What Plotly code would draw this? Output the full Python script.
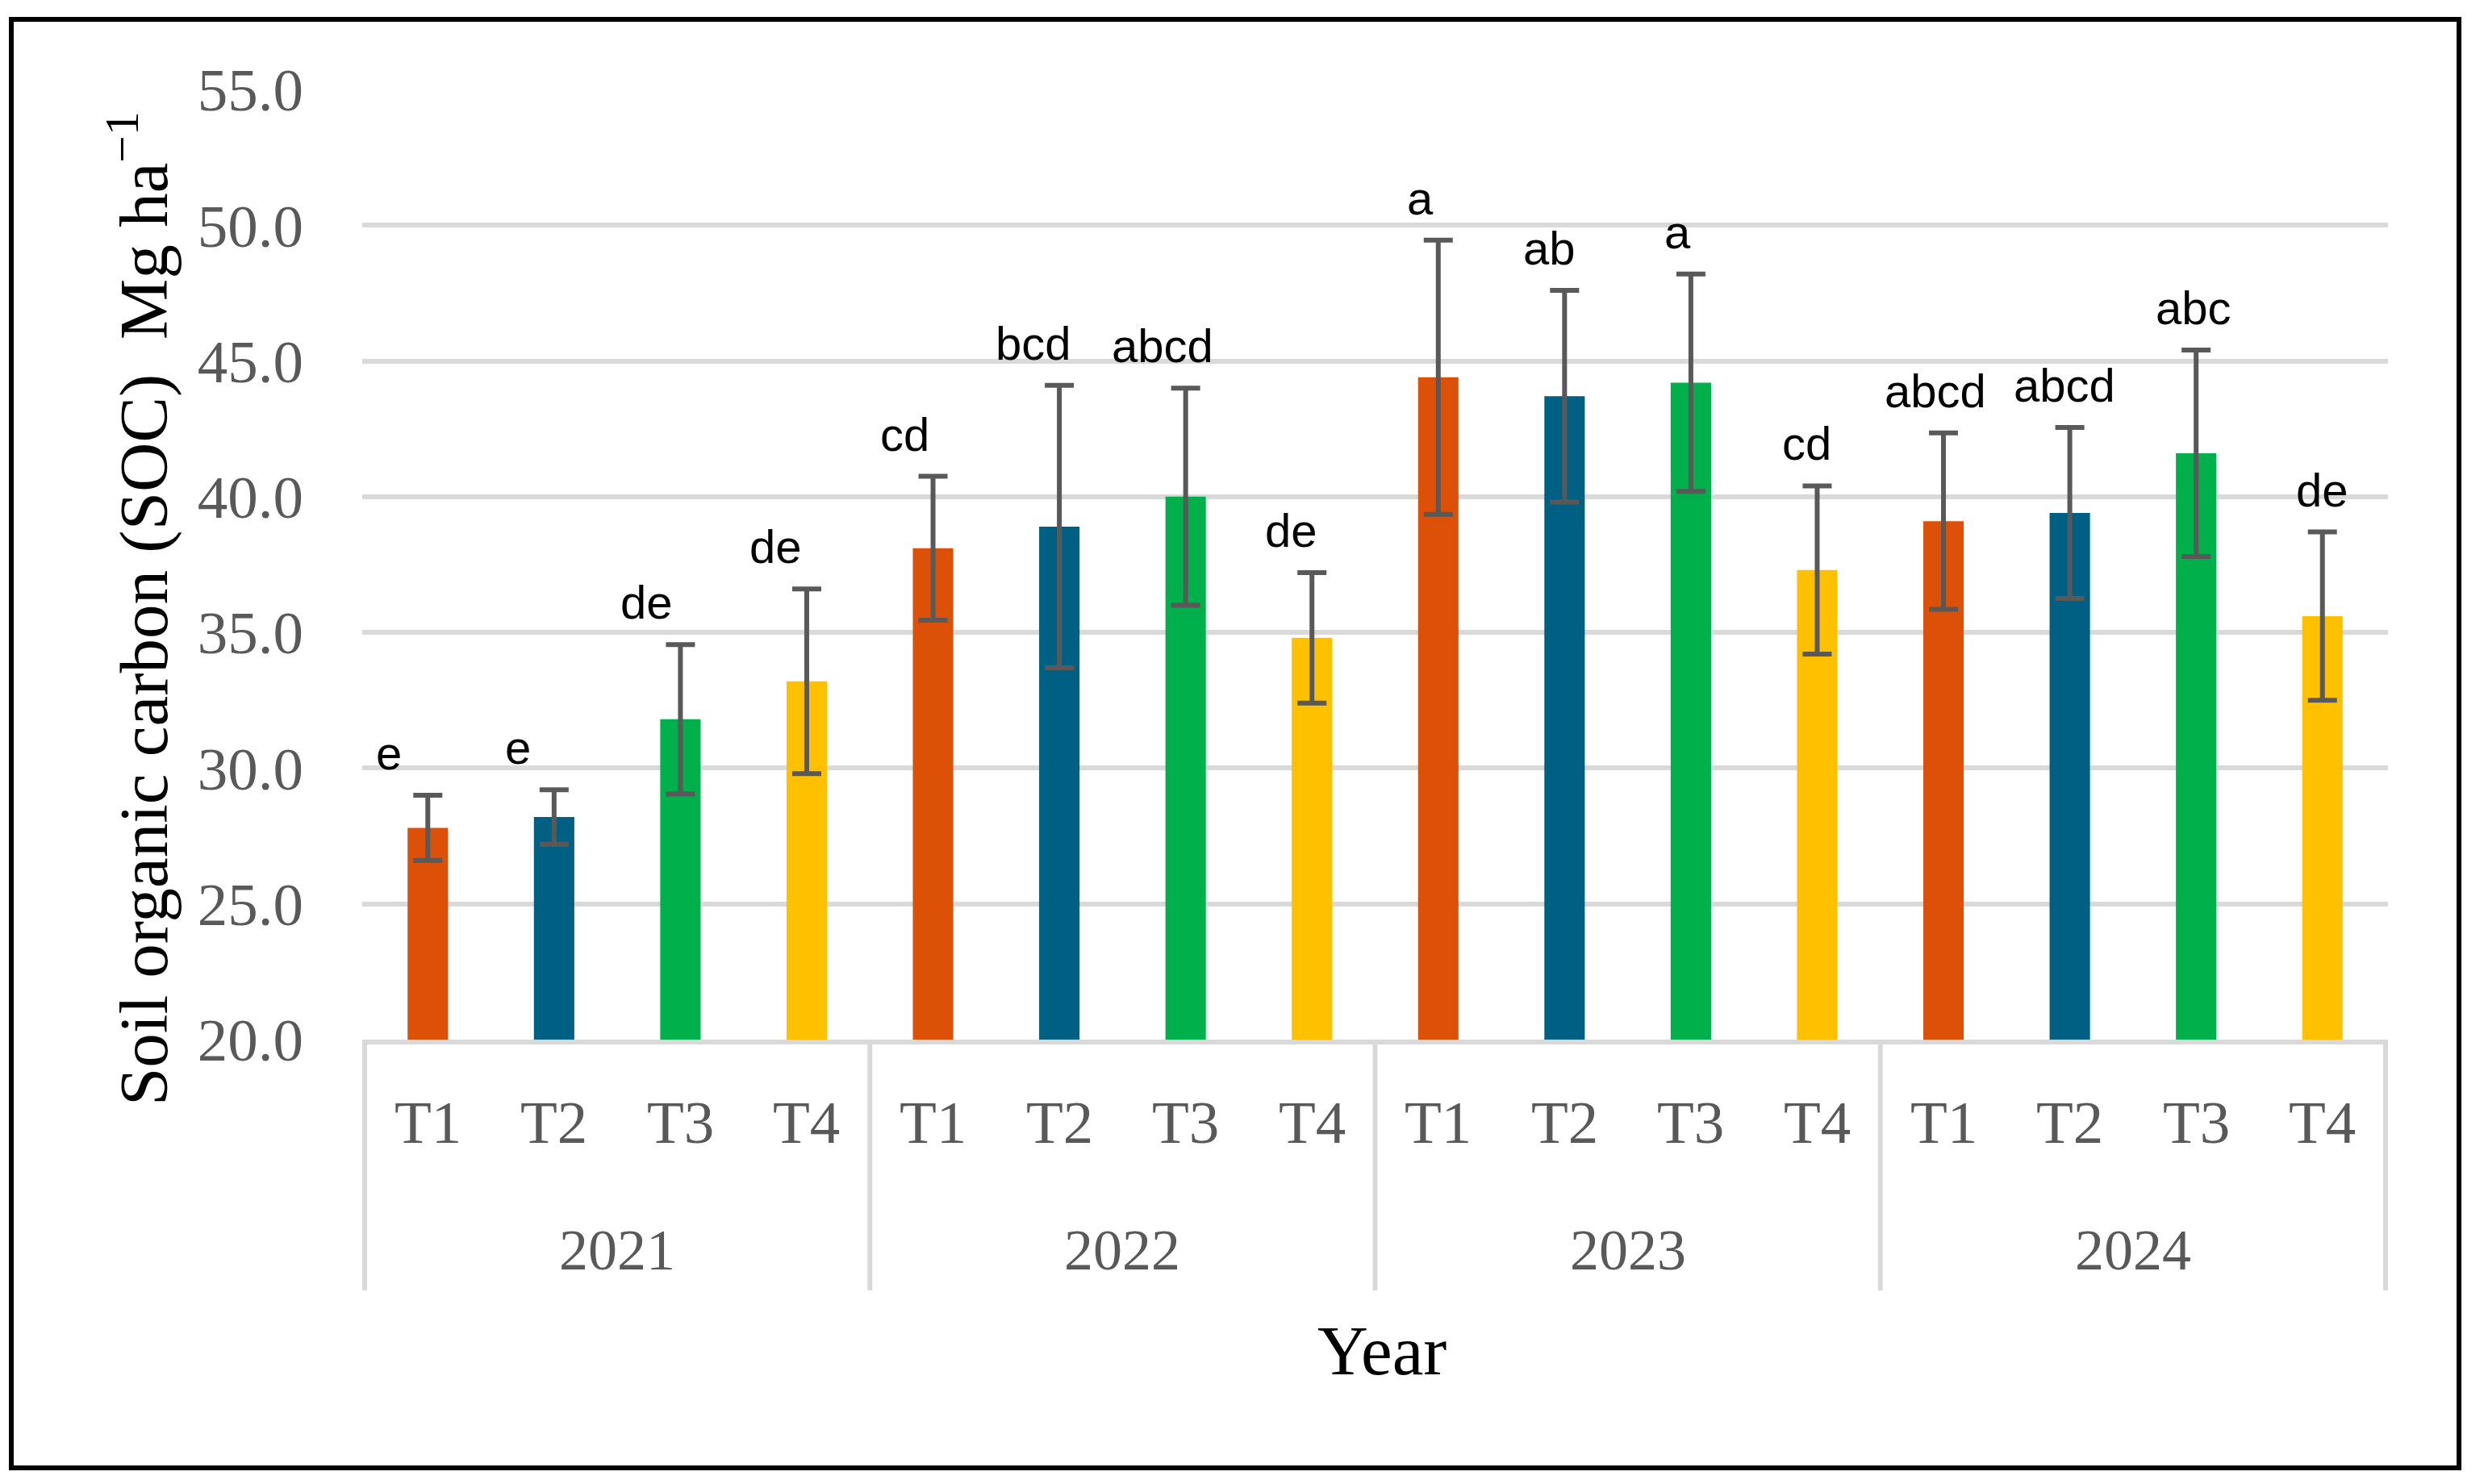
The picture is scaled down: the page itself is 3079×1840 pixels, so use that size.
import plotly.graph_objects as go

# Data
years = ["2021", "2022", "2023", "2024"]
treatments = ["T1", "T2", "T3", "T4"]

soc_2021 = [27.8, 28.2, 31.8, 33.2]
soc_2022 = [38.1, 38.9, 40.0, 34.8]
soc_2023 = [44.4, 43.7, 44.2, 37.3]
soc_2024 = [39.1, 39.4, 41.6, 35.6]

err_2021 = [1.2, 1.0, 2.75, 3.4]
err_2022 = [2.65, 5.2, 4.0, 2.4]
err_2023 = [5.05, 3.9, 4.0, 3.1]
err_2024 = [3.25, 3.15, 3.8, 3.1]

letters_2021 = ["e", "e", "de", "de"]
letters_2022 = ["cd", "bcd", "abcd", "de"]
letters_2023 = ["a", "ab", "a", "cd"]
letters_2024 = ["abcd", "abcd", "abc", "de"]

colors = {"T1": "#DD5008", "T2": "#006083", "T3": "#00B04B", "T4": "#FFC000"}

soc = soc_2021 + soc_2022 + soc_2023 + soc_2024
err = err_2021 + err_2022 + err_2023 + err_2024
letters = letters_2021 + letters_2022 + letters_2023 + letters_2024
cats = [f"{y} {t}" for y in years for t in treatments]
treat_of = [t for y in years for t in treatments]

# page geometry in screen pixels; the page body adds an 8px margin
OFF = 8
W, H = 3079 - 2 * OFF, 1840 - 2 * OFF
L, R, T, B = 449 - OFF, 2960 - OFF, 111 - OFF, 1289 - OFF


def px(xs):
    return (xs - OFF - L) / (R - L)


def py(ys):
    return (B - (ys - OFF)) / (B - T)


serif = "Liberation Serif"
grey = "#595959"
light = "#D9D9D9"

fig = go.Figure(go.Bar(
    x=cats, y=soc,
    marker=dict(color=[colors[t] for t in treat_of], line=dict(width=0)),
    error_y=dict(type="data", array=err, visible=True,
                 color=grey, thickness=6, width=18),
    hoverinfo="x+y",
))

# significance letters
n = len(cats)
for i, (c, v, e, lab) in enumerate(zip(cats, soc, err, letters)):
    fig.add_annotation(x=c, y=v + e, text=lab, showarrow=False,
                       yanchor="bottom", yshift=18,
                       xshift=-48 * (1 - i / (n - 1)),
                       font=dict(family="Liberation Sans", size=58, color="black"))

# category labels and dividers
for i, c in enumerate(cats):
    fig.add_annotation(x=c, y=py(1391), yref="paper", text=treat_of[i],
                       showarrow=False, yanchor="middle",
                       font=dict(family=serif, size=75, color=grey))
for k, y in enumerate(years):
    fig.add_annotation(x=4 * k + 1.5, y=py(1550), yref="paper", text=y,
                       showarrow=False, yanchor="middle",
                       font=dict(family=serif, size=72, color=grey))
for k in range(len(years) + 1):
    fig.add_shape(type="line", xref="x", yref="paper",
                  x0=4 * k - 0.5, x1=4 * k - 0.5, y0=0, y1=py(1600),
                  line=dict(color=light, width=6))

# axis titles
fig.add_annotation(x=px(1713), y=py(1675), xref="paper", yref="paper",
                   text="Year", showarrow=False, yanchor="middle",
                   font=dict(family=serif, size=87, color="black"))
fig.add_annotation(x=px(172), y=py(755), xref="paper", yref="paper",
                   text="Soil organic carbon (SOC)  Mg ha<sup>−1</sup>",
                   textangle=-90, showarrow=False,
                   xanchor="center", yanchor="middle",
                   font=dict(family=serif, size=85, color="black"))

# outer frame
fig.add_shape(type="rect", xref="paper", yref="paper",
              x0=px(14), x1=px(3048), y0=py(24), y1=py(1820),
              line=dict(color="black", width=6))

fig.update_layout(
    width=W, height=H,
    margin=dict(l=L, r=W - R, t=T, b=H - B, pad=0),
    plot_bgcolor="white", paper_bgcolor="white",
    bargap=0.68, showlegend=False,
    xaxis=dict(type="category", showticklabels=False, ticks="",
               showline=True, linecolor=light, linewidth=6,
               showgrid=False, zeroline=False, fixedrange=True),
    yaxis=dict(range=[20, 55], dtick=5, tickformat=".1f",
               showgrid=True, gridcolor=light, gridwidth=6,
               zeroline=False, showline=False, ticks="",
               ticklabelstandoff=72,
               tickfont=dict(family=serif, size=75, color=grey)),
)

fig.write_html("out.html")
